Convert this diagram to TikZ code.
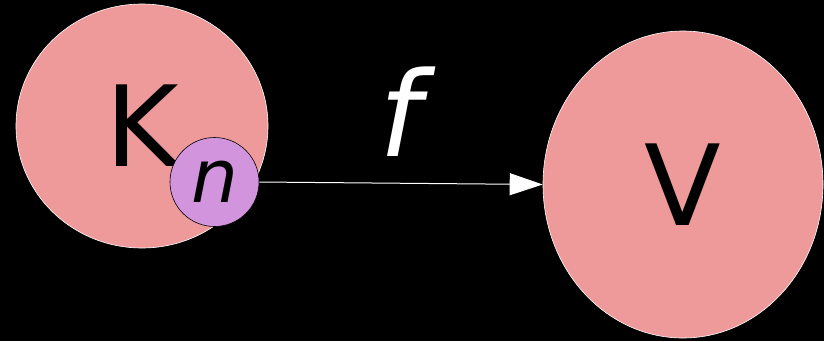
\documentclass[tikz,border=0pt]{standalone}
\usepackage{fontspec}
\setmainfont{DejaVu Sans}
\usetikzlibrary{shapes.geometric,arrows.meta,positioning}
\definecolor{setpink}{RGB}{238,154,154}
\definecolor{ptviolet}{RGB}{210,148,220}

\begin{document}
\begin{tikzpicture}[
  x=1pt, y=-1pt,
  set/.style={ellipse,draw=white,line width=0.6pt,fill=setpink,inner sep=0pt,
    font=\fontsize{112}{112}\selectfont},
  point/.style={circle,draw=black,line width=0.6pt,fill=ptviolet,inner sep=0pt,
    minimum size=89pt,font=\fontsize{74}{74}\selectfont\itshape},
  map/.style={draw=white,line width=1pt,-{Triangle[length=33pt,width=22pt,fill=white]}}
]

% ------------------------------------------------------------
% Background and frame
% ------------------------------------------------------------
\fill[black] (0,0) rectangle (824,341);
\useasboundingbox (0,0) rectangle (824,341);

% ------------------------------------------------------------
% The two sets, and the point n sitting on the rim of K
% ------------------------------------------------------------
\node[set, minimum width=252pt, minimum height=244pt] (K) at (142,126) {K};
\node[point] (n) at (214.5,182) {n};
\node[set, minimum width=280pt, minimum height=307pt] (V) at (683,184.5) {V};

% ------------------------------------------------------------
% The map f from n into V
% ------------------------------------------------------------
\draw[map] (n.east) -- (V.west);
\node[text=white, font=\fontsize{118}{118}\selectfont\itshape] (f) at (400,112) {f};

\end{tikzpicture}
\end{document}
